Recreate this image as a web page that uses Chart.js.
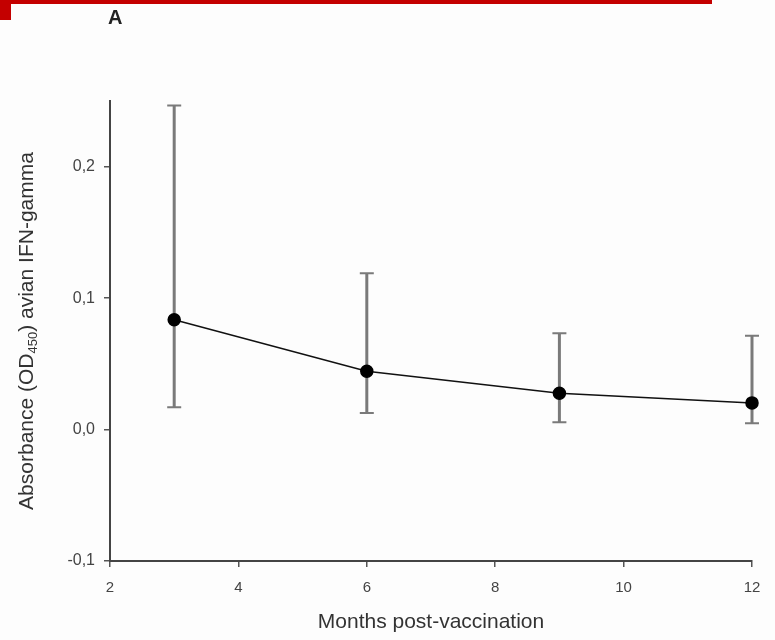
<!DOCTYPE html>
<html>
<head>
<meta charset="utf-8">
<script src="https://cdn.jsdelivr.net/npm/chart.js@4.4.1/dist/chart.umd.min.js"></script>
<style>
    html, body { margin: 0; padding: 0; background: #fdfdfd; }
    #wrap { position: relative; width: 775px; height: 640px; }
    #bar-top { position: absolute; left: 0; top: 0; width: 712px; height: 4px; background: #c40000; }
    #bar-left { position: absolute; left: 0; top: 0; width: 11px; height: 20px; background: #c40000; }
    #panel { position: absolute; left: 108px; top: 6px; font: bold 20px "Liberation Sans", Arial, sans-serif; color: #222; }
    canvas { position: absolute; left: 0; top: 0; }
</style>
</head>
<body>
<div id="wrap">
    <canvas id="chart" width="775" height="640"></canvas>
    <div id="bar-top"></div>
    <div id="bar-left"></div>
    <div id="panel">A</div>
</div>
<script>
// 데이터
const months = [3, 6, 9, 12];
const meanOD = [0.0835, 0.0444, 0.0276, 0.0203];
const upperOD = [0.2466, 0.119, 0.0733, 0.0713];
const lowerOD = [0.017, 0.0127, 0.0056, 0.0048];
const xTicks = [2, 4, 6, 8, 10, 12];
const yTicks = [-0.1, 0.0, 0.1, 0.2];

const FONT = '"Liberation Sans", Arial, sans-serif';

// 오차 막대
const errorBars = {
    id: 'errorBars',
    beforeDatasetsDraw(chart) {
        const { ctx, scales: { x, y } } = chart;
        ctx.save();
        ctx.strokeStyle = '#7a7a7a';
        months.forEach((m, i) => {
            const px = x.getPixelForValue(m);
            const top = y.getPixelForValue(upperOD[i]);
            const bot = y.getPixelForValue(lowerOD[i]);
            ctx.lineWidth = 3;
            ctx.beginPath();
            ctx.moveTo(px, top);
            ctx.lineTo(px, bot);
            ctx.stroke();
            ctx.lineWidth = 2;
            ctx.beginPath();
            ctx.moveTo(px - 7, top);
            ctx.lineTo(px + 7, top);
            ctx.moveTo(px - 7, bot);
            ctx.lineTo(px + 7, bot);
            ctx.stroke();
        });
        ctx.restore();
    }
};

// y축 제목 (아래첨자 포함)
const yTitle = {
    id: 'yTitle',
    afterDraw(chart) {
        const { ctx, chartArea } = chart;
        const parts = [
            { t: 'Absorbance (OD', f: '21px ' + FONT, dy: 0 },
            { t: '450', f: '13px ' + FONT, dy: 6 },
            { t: ') avian IFN-gamma', f: '21px ' + FONT, dy: 0 }
        ];
        ctx.save();
        let total = 0;
        parts.forEach(p => { ctx.font = p.f; p.w = ctx.measureText(p.t).width; total += p.w; });
        ctx.translate(27, (chartArea.top + chartArea.bottom) / 2);
        ctx.rotate(-Math.PI / 2);
        ctx.fillStyle = '#333';
        ctx.textBaseline = 'middle';
        let cx = -total / 2;
        parts.forEach(p => {
            ctx.font = p.f;
            ctx.fillText(p.t, cx, p.dy);
            cx += p.w;
        });
        ctx.restore();
    }
};

new Chart(document.getElementById('chart'), {
    type: 'line',
    data: {
        datasets: [{
            data: months.map((m, i) => ({ x: m, y: meanOD[i] })),
            borderColor: '#111',
            borderWidth: 1.5,
            pointRadius: 6,
            pointBackgroundColor: '#000',
            pointBorderColor: '#000',
            tension: 0,
            clip: false
        }]
    },
    options: {
        responsive: false,
        animation: false,
        layout: { padding: { top: 101, right: 23, left: 0, bottom: 0 } },
        plugins: {
            legend: { display: false },
            tooltip: { enabled: false }
        },
        scales: {
            x: {
                type: 'linear',
                min: 2,
                max: 12,
                afterFit: scale => { scale.height = 79; },
                afterBuildTicks: scale => { scale.ticks = xTicks.map(v => ({ value: v })); },
                grid: { drawOnChartArea: false, drawTicks: true, tickLength: 6, color: '#555', lineWidth: 1.5 },
                border: { display: true, color: '#444', width: 2 },
                ticks: { color: '#444', font: { size: 15, family: FONT }, padding: 12, callback: v => v },
                title: { display: true, text: 'Months post-vaccination', color: '#333', font: { size: 21, family: FONT }, padding: { top: 0, bottom: 5 } }
            },
            y: {
                min: -0.1,
                max: 0.25,
                afterFit: scale => { scale.width = 110; },
                afterBuildTicks: scale => { scale.ticks = yTicks.map(v => ({ value: v })); },
                grid: { drawOnChartArea: false, drawTicks: true, tickLength: 6, color: '#555', lineWidth: 1.5 },
                border: { display: true, color: '#444', width: 2 },
                ticks: { color: '#444', font: { size: 16, family: FONT }, padding: 9, callback: v => v.toFixed(1).replace('.', ',') }
            }
        }
    },
    plugins: [errorBars, yTitle]
});
</script>
</body>
</html>
